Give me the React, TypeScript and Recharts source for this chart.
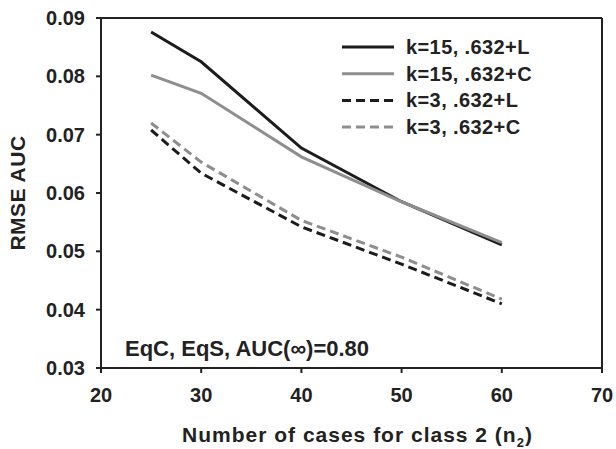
import { Label, Line, LineChart, XAxis, YAxis } from "recharts";

// n2 values and RMSE of AUC
const nCases = [25, 30, 40, 50, 60];
const k15L = [0.0876, 0.0825, 0.0677, 0.0585, 0.0511];
const k15C = [0.0802, 0.0771, 0.0662, 0.0585, 0.0515];
const k3L = [0.0708, 0.0634, 0.0542, 0.0478, 0.041];
const k3C = [0.072, 0.0653, 0.0553, 0.049, 0.0418];

const xTicks = [20, 30, 40, 50, 60, 70];
const yTicks = [0.03, 0.04, 0.05, 0.06, 0.07, 0.08, 0.09];

const seriesInfo = [
  { key: "k15L", name: "k=15, .632+L", color: "#1c1c1c", dash: undefined },
  { key: "k15C", name: "k=15, .632+C", color: "#8e8e8e", dash: undefined },
  { key: "k3L", name: "k=3, .632+L", color: "#1c1c1c", dash: "9 5" },
  { key: "k3C", name: "k=3, .632+C", color: "#8e8e8e", dash: "9 5" },
];

const data = nCases.map((n, i) => ({
  n,
  k15L: k15L[i],
  k15C: k15C[i],
  k3L: k3L[i],
  k3C: k3C[i],
}));

const FONT = "'Liberation Sans', Arial, sans-serif";
const INK = "#222";
const tickStyle = { fontSize: 20, fontWeight: 700, fill: INK, fontFamily: FONT };

function LegendBox() {
  return (
    <svg width={240} height={110} style={{ display: "block" }}>
      {seriesInfo.map((s, i) => {
        const y = 13 + i * 26.7;
        return (
          <g key={s.key}>
            <line x1={0} x2={52} y1={y} y2={y} stroke={s.color} strokeWidth={3} strokeDasharray={s.dash} />
            <text
              x={64}
              y={y + 7}
              fontSize={20}
              fontWeight={700}
              fill={INK}
              fontFamily={FONT}
              letterSpacing={0.4}
            >
              {s.name}
            </text>
          </g>
        );
      })}
    </svg>
  );
}

export default function App() {
  return (
    <div style={{ position: "absolute", left: 0, top: 0, width: 616, height: 449, background: "#fff" }}>
      <LineChart width={616} height={449} data={data} margin={{ top: 0, right: 0, bottom: 0, left: 0 }}>
        <XAxis
          dataKey="n"
          type="number"
          domain={[20, 70]}
          ticks={xTicks}
          height={81}
          tick={tickStyle}
          tickSize={5}
          tickMargin={15}
          axisLine={{ stroke: INK, strokeWidth: 2 }}
          tickLine={{ stroke: INK, strokeWidth: 2 }}
        >
          <Label
            content={({ viewBox }: any) => (
              <text
                x={viewBox.x + viewBox.width / 2 + 6}
                y={viewBox.y + 74}
                textAnchor="middle"
                fontSize={21}
                fontWeight={700}
                fill={INK}
                fontFamily={FONT}
                letterSpacing={1}
              >
                Number of cases for class 2 (n
                <tspan fontSize={13} dy={5}>2</tspan>
                <tspan dy={-5}>)</tspan>
              </text>
            )}
          />
        </XAxis>
        <XAxis
          xAxisId="top"
          orientation="top"
          type="number"
          dataKey="n"
          domain={[20, 70]}
          ticks={xTicks}
          height={18}
          tick={false}
          tickSize={5}
          axisLine={{ stroke: INK, strokeWidth: 2 }}
          tickLine={{ stroke: INK, strokeWidth: 2 }}
        />
        <YAxis
          type="number"
          domain={[0.03, 0.09]}
          ticks={yTicks}
          width={101}
          tick={tickStyle}
          tickFormatter={(v: number) => v.toFixed(2)}
          tickSize={5}
          tickMargin={11}
          axisLine={{ stroke: INK, strokeWidth: 2 }}
          tickLine={{ stroke: INK, strokeWidth: 2 }}
        >
          <Label
            content={({ viewBox }: any) => {
              const cx = viewBox.x + 25;
              const cy = viewBox.y + viewBox.height / 2;
              return (
                <text
                  x={cx}
                  y={cy}
                  transform={`rotate(-90 ${cx} ${cy})`}
                  textAnchor="middle"
                  fontSize={21}
                  fontWeight={700}
                  fill={INK}
                  fontFamily={FONT}
                  letterSpacing={0.5}
                >
                  RMSE AUC
                </text>
              );
            }}
          />
        </YAxis>
        <YAxis
          yAxisId="right"
          orientation="right"
          type="number"
          domain={[0.03, 0.09]}
          ticks={yTicks}
          width={14}
          tick={false}
          tickSize={5}
          axisLine={{ stroke: INK, strokeWidth: 2 }}
          tickLine={{ stroke: INK, strokeWidth: 2 }}
        />
        {seriesInfo.map((s) => (
          <Line
            key={s.key}
            dataKey={s.key}
            name={s.name}
            type="linear"
            stroke={s.color}
            strokeWidth={3}
            strokeDasharray={s.dash}
            dot={false}
            activeDot={false}
            isAnimationActive={false}
          />
        ))}
      </LineChart>
      <div style={{ position: "absolute", left: 342, top: 34 }}>
        <LegendBox />
      </div>
      <div
        style={{
          position: "absolute",
          left: 125,
          top: 336,
          fontFamily: FONT,
          fontWeight: 700,
          fontSize: 22,
          lineHeight: "25px",
          color: INK,
          whiteSpace: "nowrap",
        }}
      >
        EqC, EqS, AUC(∞)=0.80
      </div>
    </div>
  );
}
